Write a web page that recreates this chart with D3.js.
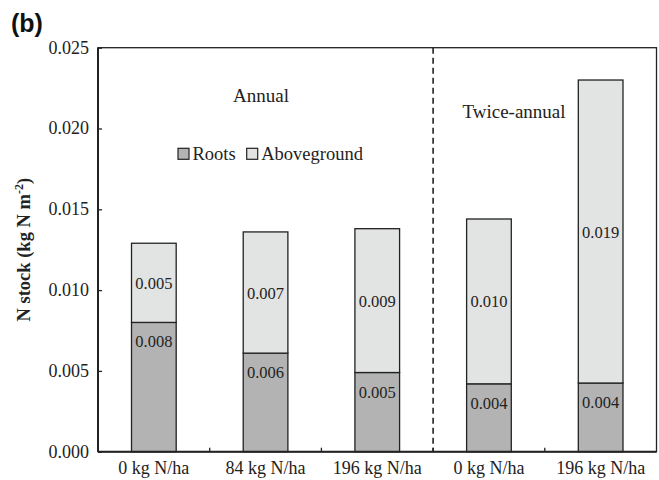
<!DOCTYPE html>
<html>
<head>
<meta charset="utf-8">
<script src="https://cdn.jsdelivr.net/npm/d3@7"></script>
<style>
  body { margin: 0; background: #fff; }
  svg { display: block; font-family: "Liberation Serif", "Times New Roman", serif; }
</style>
</head>
<body>
<div id="chart"></div>
<script>
// values (kg N m-2)
const categories = ["0 kg N/ha", "84 kg N/ha", "196 kg N/ha", "0 kg N/ha ", "196 kg N/ha "];
const roots = [0.0080, 0.0061, 0.0049, 0.0042, 0.00425];
const aboveground = [0.0049, 0.0075, 0.0089, 0.0102, 0.01875];
const rootLabels = ["0.008", "0.006", "0.005", "0.004", "0.004"];
const aboveLabels = ["0.005", "0.007", "0.009", "0.010", "0.019"];
const yTicks = [0, 0.005, 0.010, 0.015, 0.020, 0.025];

const W = 659, H = 480;
const m = { left: 98, top: 47.7, right: 2.5, bottom: 28.3 };
const iw = W - m.left - m.right, ih = H - m.top - m.bottom;

const svg = d3.select("#chart").append("svg").attr("width", W).attr("height", H);
const g = svg.append("g").attr("transform", `translate(${m.left},${m.top})`);

const x = d3.scaleBand().domain(categories).range([0, iw]).paddingInner(0.6).paddingOuter(0.3);
const y = d3.scaleLinear().domain([0, 0.025]).range([ih, 0]);

// stacked data
const rows = categories.map((c, i) => ({ cat: c, roots: roots[i], aboveground: aboveground[i] }));
const stack = d3.stack().keys(["roots", "aboveground"])(rows);
const fills = { roots: "#b3b3b3", aboveground: "#e2e3e3" };

g.selectAll(".layer").data(stack).enter().append("g").attr("class", "layer")
  .attr("fill", d => fills[d.key])
  .selectAll("rect").data(d => d).enter().append("rect")
  .attr("x", d => x(d.data.cat)).attr("width", x.bandwidth())
  .attr("y", d => y(d[1])).attr("height", d => y(d[0]) - y(d[1]))
  .attr("stroke", "#222").attr("stroke-width", 1.3);

// bar value labels
g.selectAll(".rl").data(rows).enter().append("text")
  .attr("x", d => x(d.cat) + x.bandwidth() / 2)
  .attr("y", d => y(d.roots) + 25)
  .attr("text-anchor", "middle").attr("font-size", 16.5).attr("fill", "#222")
  .text((d, i) => rootLabels[i]);
g.selectAll(".al").data(rows).enter().append("text")
  .attr("x", d => x(d.cat) + x.bandwidth() / 2)
  .attr("y", d => y(d.roots + d.aboveground / 2) + 6)
  .attr("text-anchor", "middle").attr("font-size", 16.5).attr("fill", "#222")
  .text((d, i) => aboveLabels[i]);

// frame
g.append("rect").attr("width", iw).attr("height", ih).attr("fill", "none")
  .attr("stroke", "#222").attr("stroke-width", 1.3);

// y axis, ticks pointing inward
const yAxis = g.append("g").call(d3.axisRight(y).tickValues(yTicks).tickSize(4).tickFormat(""));
yAxis.select(".domain").remove();
yAxis.selectAll("line").attr("stroke", "#222").attr("stroke-width", 1.3);
g.selectAll(".ytl").data(yTicks).enter().append("text")
  .attr("x", -9).attr("y", d => y(d) + 6)
  .attr("text-anchor", "end").attr("font-size", 18).attr("fill", "#222")
  .text(d3.format(".3f"));

// x axis: ticks between categories, inward
const bounds = categories.slice(1).map(c => x(c) - x.step() * x.paddingInner() / 2);
g.selectAll(".xt").data(bounds).enter().append("line")
  .attr("x1", d => d).attr("x2", d => d).attr("y1", ih).attr("y2", ih - 4)
  .attr("stroke", "#222").attr("stroke-width", 1.3);
g.append("line").attr("x1", 0).attr("x2", iw).attr("y1", ih).attr("y2", ih)
  .attr("stroke", "#222").attr("stroke-width", 2);
g.append("line").attr("x1", 0).attr("x2", 0).attr("y1", 0).attr("y2", ih)
  .attr("stroke", "#222").attr("stroke-width", 2);
g.selectAll(".xl").data(categories).enter().append("text")
  .attr("x", d => x(d) + x.bandwidth() / 2).attr("y", ih + 22)
  .attr("text-anchor", "middle").attr("font-size", 18).attr("fill", "#222")
  .text(d => d.trim());

// dashed separator between annual and twice-annual
g.append("line").attr("x1", bounds[2]).attr("x2", bounds[2]).attr("y1", 0).attr("y2", ih)
  .attr("stroke", "#222").attr("stroke-width", 1.6).attr("stroke-dasharray", "6,4");

// group titles
g.append("text").attr("x", 163).attr("y", 54).attr("text-anchor", "middle")
  .attr("font-size", 19).attr("fill", "#222").text("Annual");
g.append("text").attr("x", 416).attr("y", 70).attr("text-anchor", "middle")
  .attr("font-size", 19).attr("fill", "#222").text("Twice-annual");

// legend
const legend = g.append("g").attr("transform", "translate(80,100.6)");
const legendItems = [{ k: "roots", name: "Roots", dx: 0 }, { k: "aboveground", name: "Aboveground", dx: 68.7 }];
const li = legend.selectAll("g").data(legendItems).enter().append("g")
  .attr("transform", d => `translate(${d.dx},0)`);
li.append("rect").attr("width", 11).attr("height", 11).attr("fill", d => fills[d.k])
  .attr("stroke", "#222").attr("stroke-width", 1.2);
li.append("text").attr("x", 14.5).attr("y", 11.5).attr("font-size", 18.5).attr("fill", "#222")
  .text(d => d.name);

// y title
svg.append("text").attr("transform", `translate(30,${m.top + ih / 2}) rotate(-90)`)
  .attr("text-anchor", "middle").attr("font-size", 18.5).attr("font-weight", "bold").attr("fill", "#222")
  .text("N stock (kg N m").append("tspan").attr("font-size", 12).attr("dy", -7).text("-2")
  .select(function() { return this.parentNode; }).append("tspan").attr("dy", 7).text(")");

// panel label
svg.append("text").attr("x", 11).attr("y", 32)
  .attr("font-family", "Liberation Sans, Arial, sans-serif").attr("font-weight", "bold")
  .attr("font-size", 25).attr("fill", "#111").text("(b)");
</script>
</body>
</html>
